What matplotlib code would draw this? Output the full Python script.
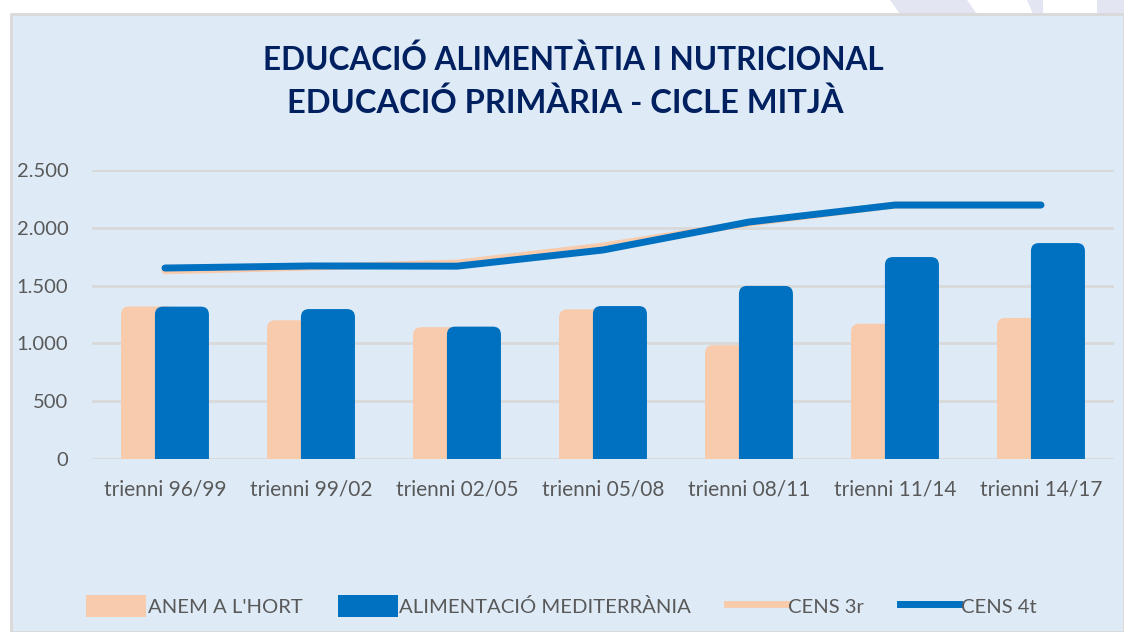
import matplotlib
matplotlib.use("Agg")
import matplotlib.pyplot as plt
from matplotlib.patches import Rectangle, Polygon, FancyBboxPatch
from matplotlib.lines import Line2D
import numpy as np

categories = ["trienni 96/99", "trienni 99/02", "trienni 02/05", "trienni 05/08",
              "trienni 08/11", "trienni 11/14", "trienni 14/17"]
anem_hort = [1320, 1200, 1140, 1295, 985, 1170, 1220]
alim_med = [1318, 1297, 1145, 1323, 1497, 1747, 1868]
cens_3r = [1628, 1660, 1695, 1842, 2040, 2197, 2197]
cens_4t = [1652, 1670, 1668, 1808, 2050, 2197, 2197]
yticks = [0, 500, 1000, 1500, 2000, 2500]
ytick_labels = ["0", "500", "1.000", "1.500", "2.000", "2.500"]
title_lines = ["EDUCACIÓ ALIMENTÀTIA I NUTRICIONAL", "EDUCACIÓ PRIMÀRIA - CICLE MITJÀ"]
legend_labels = ["ANEM A L'HORT", "ALIMENTACIÓ MEDITERRÀNIA", "CENS 3r", "CENS 4t"]

PEACH = "#f8cbad"
BLUE = "#0070c0"
BG = "#deebf7"
GRID = "#d9d9d9"
NAVY = "#002060"
GRAY = "#595959"

W, H = 1124, 632
fig = plt.figure(figsize=(W / 100, H / 100), dpi=100)
fig.patch.set_facecolor("white")

# decorative top strip
def px(x, y):
    return (x / W, 1 - y / H)

for poly in [[(890, 0), (967, 0), (977, 14), (900, 14)],
             [(1027, 0), (1043, 0), (1043, 14), (1033, 14)],
             [(1097, 0), (1124, 0), (1124, 14), (1097, 14)]]:
    fig.patches.append(Polygon([px(*p) for p in poly], closed=True,
                               transform=fig.transFigure, facecolor="#e3e5f3",
                               edgecolor="none", zorder=-2))

fig.patches.append(Rectangle(px(11, H), (W - 11) / W, (H - 14) / H,
                             transform=fig.transFigure, facecolor=BG,
                             edgecolor=GRID, linewidth=2, zorder=-1))

ax = fig.add_axes([92 / W, 1 - 459 / H, (1114 - 92) / W, (459 - 170) / H])
ax.set_facecolor("none")

x = np.arange(len(categories))
off = 0.116
bw = 0.37
ax.set_xlim(-0.5, len(categories) - 0.5)
ax.set_ylim(0, 2500)

b1 = ax.bar(x - off, anem_hort, width=bw, color=PEACH, zorder=2)
b2 = ax.bar(x + off, alim_med, width=bw, color=BLUE, zorder=3)

# rounded top corners
p0 = ax.transData.transform((0, 0))
p1 = ax.transData.transform((1, 1))
ppx = p1[0] - p0[0]
ppy = p1[1] - p0[1]
aspect = ppx / ppy
rad_px = 8
rad = rad_px / ppx
for bars in (b1, b2):
    for r in bars:
        xx, yy = r.get_x(), r.get_y()
        w, h = r.get_width(), r.get_height()
        ext = rad * aspect * 1.5
        fb = FancyBboxPatch((xx, yy - ext), w, h + ext,
                            boxstyle=f"round,pad=0,rounding_size={rad}",
                            mutation_aspect=aspect, facecolor=r.get_facecolor(),
                            edgecolor="none", zorder=r.get_zorder())
        ax.add_patch(fb)
        r.set_visible(False)

ax.plot(x, cens_3r, color=PEACH, linewidth=5, solid_capstyle="round", zorder=4)
ax.plot(x, cens_4t, color=BLUE, linewidth=5, solid_capstyle="round", zorder=5)

ax.set_xlim(-0.5, len(categories) - 0.5)
ax.set_ylim(0, 2500)
ax.set_yticks(yticks)
ax.set_yticklabels(ytick_labels)
ax.set_xticks(x)
ax.set_xticklabels(categories)
ax.yaxis.grid(True, color=GRID, linewidth=2)
ax.set_axisbelow(True)
for s in ax.spines.values():
    s.set_visible(False)
ax.tick_params(axis="both", length=0, colors=GRAY)
ax.tick_params(axis="y", pad=17, labelsize=14.5)
ax.tick_params(axis="x", pad=15, labelsize=15)
for lab in ax.get_xticklabels() + ax.get_yticklabels():
    lab.set_fontfamily("Lato")

fig.text(573 / W, 1 - 60 / H, title_lines[0], ha="center", va="center",
         fontsize=22.7, fontweight="bold", color=NAVY, family="Lato")
fig.text(565 / W, 1 - 103 / H, title_lines[1], ha="center", va="center",
         fontsize=23.5, fontweight="bold", color=NAVY, family="Lato")

handles = [Rectangle((0, 0), 1, 1, facecolor=PEACH),
           Rectangle((0, 0), 1, 1, facecolor=BLUE),
           Line2D([], [], color=PEACH, linewidth=5),
           Line2D([], [], color=BLUE, linewidth=5)]
leg = fig.legend(handles, legend_labels, ncol=4, loc="center left",
                 bbox_to_anchor=(68 / W, 1 - 606 / H), frameon=False,
                 prop={"family": "Lato", "size": 14.6}, labelcolor=GRAY,
                 handlelength=2.95, handleheight=1.25, handletextpad=0.08,
                 columnspacing=1.75)

fig.savefig("out.png", dpi=100)
